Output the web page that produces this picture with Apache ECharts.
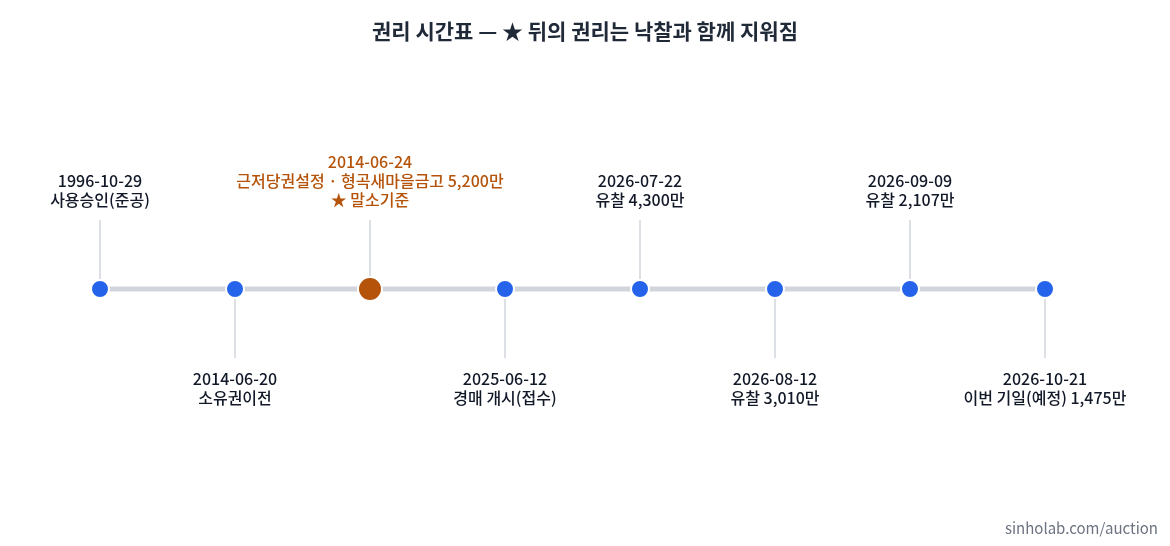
<!DOCTYPE html>
<html><head><meta charset="utf-8">
<script src="https://cdn.jsdelivr.net/npm/echarts@6/dist/echarts.min.js"></script>
<style>html,body{margin:0;padding:0;background:#fff}#c{width:1170px;height:546px}</style>
</head><body><div id="c"></div>
<script>
const dates = ['1996-10-29','2014-06-20','2014-06-24','2025-06-12','2026-07-22','2026-08-12','2026-09-09','2026-10-21'];
const events = ['사용승인(준공)','소유권이전','근저당권설정 · 형곡새마을금고 5,200만\n★ 말소기준','경매 개시(접수)','유찰 4,300만','유찰 3,010만','유찰 2,107만','이번 기일(예정) 1,475만'];
const sides = [1,-1,1,-1,1,-1,1,-1];
const highlight = [false,false,true,false,false,false,false,false];

const chart = echarts.init(document.getElementById('c'));
const FONT = '"Noto Sans CJK KR","Noto Sans",sans-serif';
chart.setOption({
  backgroundColor:'#fff',
  title:{text:'권리 시간표 — ★ 뒤의 권리는 낙찰과 함께 지워짐',left:'center',top:16,
    textStyle:{fontSize:21,fontWeight:'bold',color:'#1f2937',fontFamily:FONT}},
  graphic:[{type:'text',right:12,bottom:10,style:{text:'sinholab.com/auction',fontSize:15,fill:'#6b7280',fontFamily:FONT}}],
  grid:{left:100,right:125,top:100,bottom:68},
  xAxis:{type:'category',data:dates,boundaryGap:false,show:false},
  yAxis:{type:'value',min:-1,max:1,show:false},
  series:[
    {type:'line',data:dates.map(()=>0),symbol:'none',lineStyle:{color:'#d1d5db',width:5},z:1,silent:true},
    {type:'custom',z:2,data:dates.map((d,i)=>[i,0]),
     renderItem:(params,api)=>{
       const i=params.dataIndex; const p=api.coord([api.value(0),0]);
       const s=sides[i]; const h=highlight[i];
       const y2 = s>0 ? p[1]-69 : p[1]+69;
       return {type:'group',children:[
         {type:'line',shape:{x1:p[0],y1:p[1],x2:p[0],y2:y2},style:{stroke:'#d1d5db',lineWidth:1.5}},
         {type:'text',x:p[0],y: s>0 ? y2-11 : y2+11,
          style:{text:dates[i]+'\n'+events[i],align:'center',verticalAlign: s>0?'bottom':'top',
            fontSize:16,lineHeight:19,fontWeight:500,fill:h?'#b45309':'#111827',fontFamily:FONT}}
       ]};
     }},
    {type:'scatter',z:3,data:dates.map((d,i)=>({value:[i,0],symbolSize:highlight[i]?24:18,
      itemStyle:{opacity:1,color:highlight[i]?'#b45309':'#2563eb',borderColor:'#fff',borderWidth:2}})),silent:true}
  ]
});
</script></body></html>
